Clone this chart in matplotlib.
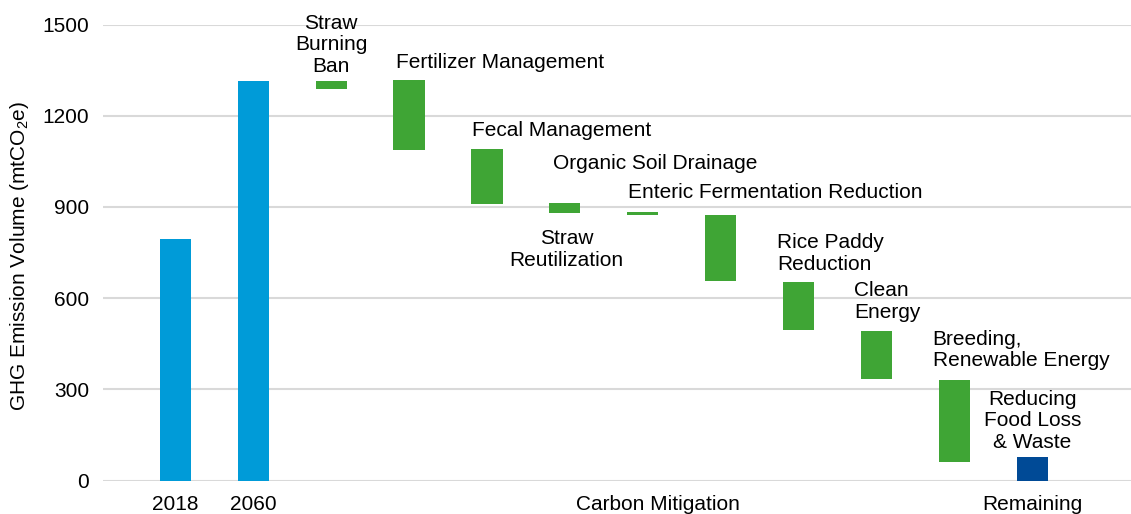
import matplotlib
matplotlib.use("Agg")
import matplotlib.pyplot as plt

plt.rcParams['font.family'] = ['Liberation Sans', 'DejaVu Sans']
plt.rcParams['mathtext.fontset'] = 'custom'
plt.rcParams['mathtext.rm'] = 'Liberation Sans'
plt.rcParams['mathtext.it'] = 'Liberation Sans:italic'

# ---- data ----
bar_low = [0, 0, 1287, 1087, 909, 879, 873, 655, 494, 333, 63, 0]
bar_high = [796, 1313, 1313, 1316, 1089, 914, 885, 875, 654, 493, 332, 78]
bar_kind = ['total', 'total', 'step', 'step', 'step', 'step', 'step',
            'step', 'step', 'step', 'step', 'remain']

tick_labels = ['2018', '2060', 'Carbon Mitigation', 'Remaining']
y_ticks = [0, 300, 600, 900, 1200, 1500]

annotations = [
    ("Straw\nBurning\nBan", 2.0, 1433, 'center'),
    ("Fertilizer Management", 2.83, 1376, 'left'),
    ("Fecal Management", 3.806, 1151, 'left'),
    ("Organic Soil Drainage", 4.842, 1043, 'left'),
    ("Straw\nReutilization", 5.022, 761, 'center'),
    ("Enteric Fermentation Reduction", 5.809, 948, 'left'),
    ("Rice Paddy\nReduction", 7.73, 748, 'left'),
    ("Clean\nEnergy", 8.71, 590, 'left'),
    ("Breeding,\nRenewable Energy", 9.724, 430, 'left'),
    ("Reducing\nFood Loss\n& Waste", 11.004, 197, 'center'),
]

colors = {'total': '#009BD8', 'step': '#3FA535', 'remain': '#004A96'}
FS = 15

fig = plt.figure(figsize=(11.31, 5.14), dpi=100)
ax = fig.add_axes([103 / 1131, (514 - 480.7) / 514, 1 - 103 / 1131, (480.7 - 24.5) / 514])

xs = list(range(len(bar_low)))
heights = [h - l for h, l in zip(bar_high, bar_low)]
ax.bar(xs, heights, bottom=bar_low, width=0.4,
       color=[colors[k] for k in bar_kind], zorder=3)

ax.set_xlim(-0.93, 12.27)
ax.set_ylim(0, 1500)
ax.set_yticks(y_ticks)
ax.set_yticklabels([str(v) for v in y_ticks], fontsize=FS)
ax.grid(axis='y', color='#D9D9D9', linewidth=1.5, zorder=0)
ax.set_axisbelow(True)
for s in ax.spines.values():
    s.set_visible(False)
ax.tick_params(axis='both', length=0)
ax.tick_params(axis='y', pad=10)
ax.tick_params(axis='x', pad=10)
ax.set_xticks([0, 1, 6.19, 11])
ax.set_xticklabels(tick_labels, fontsize=FS)

for txt, x, y, ha in annotations:
    ax.text(x, y, txt, ha=ha, va='center', fontsize=FS, linespacing=1.18,
            multialignment='center' if ha == 'center' else 'left', zorder=4)

fig.text(20 / 1131, 1 - 256 / 514, r'GHG Emission Volume (mtCO$_2$e)',
         rotation=90, ha='center', va='center', fontsize=FS)

fig.savefig('out.png', dpi=100)
